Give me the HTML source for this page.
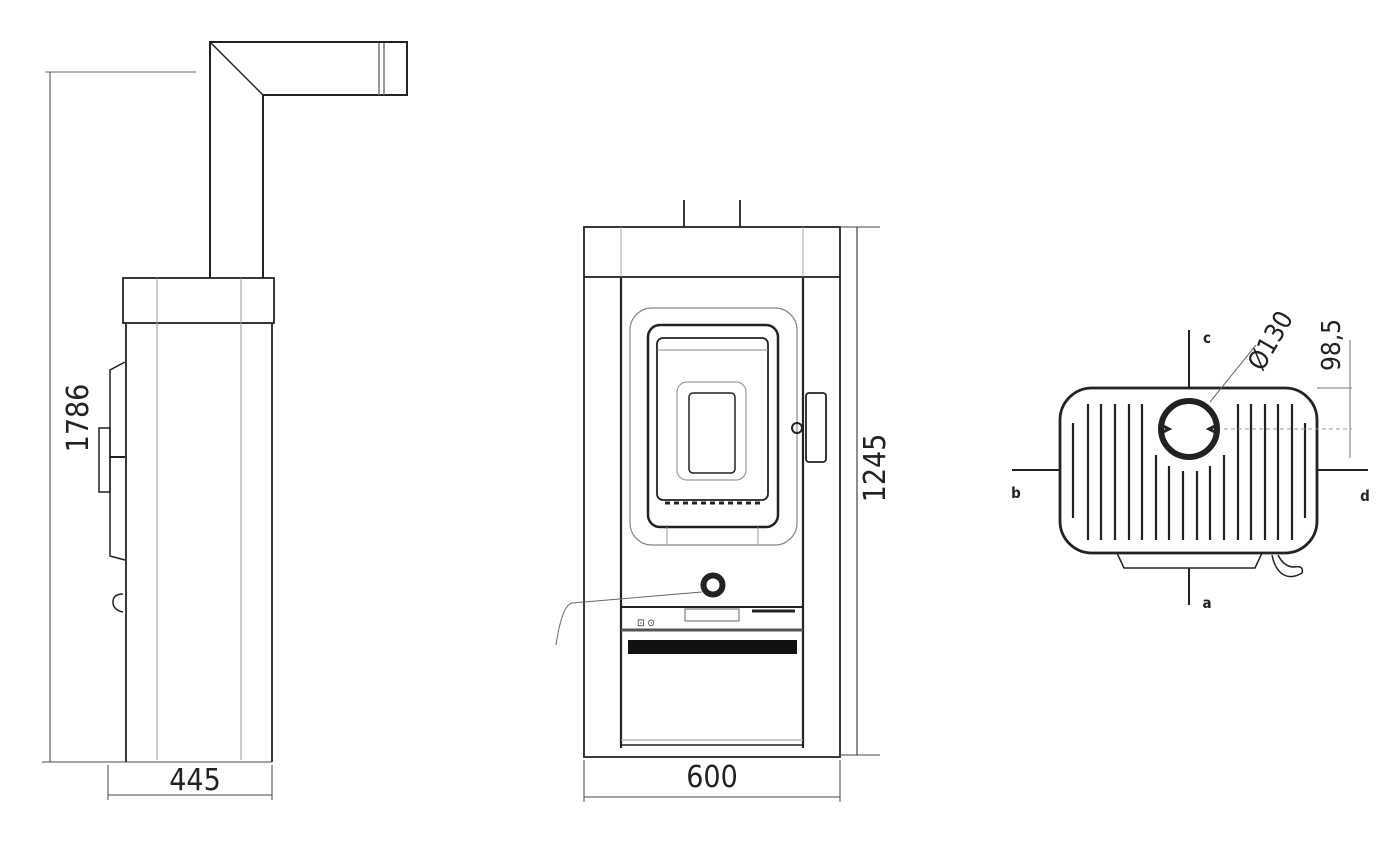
<!DOCTYPE html>
<html><head><meta charset="utf-8"><style>
html,body{margin:0;padding:0;background:#fff;}
svg{display:block;}
text{font-family:"DejaVu Sans Condensed","Liberation Sans",sans-serif;fill:#222;}
</style></head><body>
<svg width="1400" height="851" viewBox="0 0 1400 851" xmlns="http://www.w3.org/2000/svg" fill="none" stroke="#222" stroke-width="1.5">
<!-- SIDE VIEW -->
<g>
<path d="M210 278 V42 H407 V95 H263 V278" stroke-width="2"/>
<line x1="211" y1="43" x2="263" y2="95" stroke-width="1.5"/>
<line x1="379" y1="43" x2="379" y2="95" stroke="#777"/>
<line x1="384" y1="43" x2="384" y2="95" stroke="#777"/>
<rect x="123" y="278" width="151" height="45" stroke-width="1.8"/>
<path d="M126 323 V762 M272 323 V762" stroke-width="1.8"/>
<line x1="157" y1="278" x2="157" y2="760" stroke="#999" stroke-width="1"/>
<line x1="241" y1="278" x2="241" y2="760" stroke="#999" stroke-width="1"/>
<path d="M125 362 L110 370 V556 L125 560" stroke-width="1.5"/>
<rect x="99" y="428" width="11" height="64" stroke-width="1.5"/>
<line x1="110" y1="457" x2="125" y2="457" stroke-width="2"/>
<path d="M123 594 q-10 0 -10 8 q0 8 10 10" stroke-width="1.5"/>
<!-- dims -->
<line x1="45" y1="72" x2="196" y2="72" stroke="#666" stroke-width="1"/>
<line x1="50" y1="72" x2="50" y2="762" stroke="#444" stroke-width="1"/>
<line x1="42" y1="762" x2="272" y2="762" stroke="#444" stroke-width="1"/>
<line x1="108" y1="765" x2="108" y2="800" stroke="#444" stroke-width="1"/>
<line x1="272" y1="765" x2="272" y2="800" stroke="#444" stroke-width="1"/>
<line x1="108" y1="795" x2="272" y2="795" stroke="#444" stroke-width="1"/>
<text x="195" y="790" font-size="30" text-anchor="middle" stroke="none">445</text>
<text transform="translate(88,418) rotate(-90)" font-size="30" text-anchor="middle" stroke="none">1786</text>
</g>
<!-- FRONT VIEW -->
<g>
<line x1="684" y1="200" x2="684" y2="227" stroke-width="1.8"/>
<line x1="740" y1="200" x2="740" y2="227" stroke-width="1.8"/>
<rect x="584" y="227" width="256" height="50" stroke-width="1.8"/>
<line x1="621" y1="227" x2="621" y2="277" stroke="#aaa" stroke-width="1"/>
<line x1="803" y1="227" x2="803" y2="277" stroke="#aaa" stroke-width="1"/>
<path d="M584 277 V757 H840 V277" stroke-width="1.8"/>
<path d="M621 277 V748 M803 277 V748" stroke-width="2.2"/>
<line x1="621" y1="745" x2="803" y2="745" stroke-width="1.5"/>
<line x1="621" y1="740" x2="803" y2="740" stroke="#999" stroke-width="1"/>
<rect x="630" y="308" width="167" height="237" rx="22" stroke="#888" stroke-width="1.2"/>
<rect x="648" y="325" width="130" height="202" rx="12" stroke-width="2.5"/>
<rect x="657" y="338" width="111" height="162" rx="6" stroke-width="1.8"/>
<line x1="657" y1="350" x2="768" y2="350" stroke="#888" stroke-width="1"/>
<rect x="677" y="382" width="69" height="98" rx="10" stroke="#999" stroke-width="1.2"/>
<rect x="689" y="393" width="46" height="80" rx="4" stroke-width="1.5"/>
<line x1="665" y1="503" x2="762" y2="503" stroke-width="3" stroke-dasharray="5 4"/>
<line x1="667" y1="527" x2="667" y2="545" stroke="#999" stroke-width="1"/>
<line x1="758" y1="527" x2="758" y2="545" stroke="#999" stroke-width="1"/>
<rect x="806" y="393" width="20" height="69" rx="3" stroke-width="1.8"/>
<circle cx="797" cy="428" r="5" stroke-width="2"/>
<circle cx="713" cy="585" r="9.5" stroke-width="6"/>
<path d="M702 592 L572 603 Q562 605 556 645" stroke="#666" stroke-width="1"/>
<line x1="621" y1="607" x2="803" y2="607" stroke-width="2"/>
<rect x="685" y="609" width="54" height="12" stroke="#666" stroke-width="1"/>
<line x1="752" y1="611" x2="795" y2="611" stroke-width="3"/>
<text x="637" y="626" font-size="10" stroke="none">⊡ ⊙</text>
<line x1="621" y1="630" x2="803" y2="630" stroke="#555" stroke-width="3"/>
<rect x="628" y="640" width="169" height="14" fill="#111" stroke="none"/>
<!-- dims -->
<line x1="840" y1="227" x2="880" y2="227" stroke="#444" stroke-width="1"/>
<line x1="840" y1="755" x2="880" y2="755" stroke="#444" stroke-width="1"/>
<line x1="857" y1="227" x2="857" y2="755" stroke="#444" stroke-width="1.2"/>
<line x1="584" y1="760" x2="584" y2="802" stroke="#444" stroke-width="1"/>
<line x1="840" y1="760" x2="840" y2="802" stroke="#444" stroke-width="1"/>
<line x1="584" y1="797" x2="840" y2="797" stroke="#444" stroke-width="1"/>
<text x="712" y="787" font-size="30" text-anchor="middle" stroke="none">600</text>
<text transform="translate(885,468) rotate(-90)" font-size="30" text-anchor="middle" stroke="none">1245</text>
</g>
<!-- TOP VIEW -->
<g>
<path d="M1117 553 L1124 568 H1255 L1262 553" stroke-width="1.5"/>
<path d="M1272 555 q3 15 12 20 q8 4 18 -2 q2 -8 -8 -6 q-10 0 -16 -12" stroke-width="1.5"/>
<rect x="1060" y="388" width="257" height="165" rx="32" stroke-width="2.8"/>
<g stroke-width="2.2">
<line x1="1073" y1="423" x2="1073" y2="518"/>
<line x1="1088" y1="404" x2="1088" y2="540"/>
<line x1="1101" y1="404" x2="1101" y2="540"/>
<line x1="1115" y1="404" x2="1115" y2="540"/>
<line x1="1129" y1="404" x2="1129" y2="540"/>
<line x1="1142" y1="404" x2="1142" y2="540"/>
<line x1="1156" y1="455" x2="1156" y2="540"/>
<line x1="1169" y1="466" x2="1169" y2="540"/>
<line x1="1183" y1="471" x2="1183" y2="540"/>
<line x1="1197" y1="471" x2="1197" y2="540"/>
<line x1="1210" y1="466" x2="1210" y2="540"/>
<line x1="1224" y1="455" x2="1224" y2="540"/>
<line x1="1238" y1="404" x2="1238" y2="540"/>
<line x1="1251" y1="404" x2="1251" y2="540"/>
<line x1="1265" y1="404" x2="1265" y2="540"/>
<line x1="1278" y1="404" x2="1278" y2="540"/>
<line x1="1292" y1="404" x2="1292" y2="540"/>
<line x1="1305" y1="423" x2="1305" y2="518"/>
</g>
<circle cx="1189" cy="429" r="28" fill="#fff" stroke-width="6"/>
<path d="M1161 425 l8 4 l-8 4 M1217 425 l-8 4 l8 4" stroke-width="3"/>
<line x1="1189" y1="330" x2="1189" y2="388" stroke-width="2"/>
<line x1="1189" y1="568" x2="1189" y2="605" stroke-width="2"/>
<line x1="1012" y1="470" x2="1060" y2="470" stroke-width="2"/>
<line x1="1317" y1="470" x2="1368" y2="470" stroke-width="2"/>
<text x="1207" y="343" font-size="15" font-weight="bold" text-anchor="middle" stroke="none">c</text>
<text x="1207" y="608" font-size="15" font-weight="bold" text-anchor="middle" stroke="none">a</text>
<text x="1016" y="498" font-size="15" font-weight="bold" text-anchor="middle" stroke="none">b</text>
<text x="1365" y="501" font-size="15" font-weight="bold" text-anchor="middle" stroke="none">d</text>
<line x1="1210" y1="402" x2="1256" y2="345" stroke="#666" stroke-width="1"/>
<text transform="translate(1278,345) rotate(-60)" font-size="26" text-anchor="middle" stroke="none">Ø130</text>
<text transform="translate(1340,345) rotate(-90)" font-size="26" text-anchor="middle" stroke="none">98,5</text>
<line x1="1350" y1="340" x2="1350" y2="458" stroke="#777" stroke-width="1"/>
<line x1="1317" y1="388" x2="1352" y2="388" stroke="#777" stroke-width="1"/>
<line x1="1224" y1="429" x2="1352" y2="429" stroke="#999" stroke-width="1" stroke-dasharray="4 3"/>
</g>
</svg>
</body></html>
